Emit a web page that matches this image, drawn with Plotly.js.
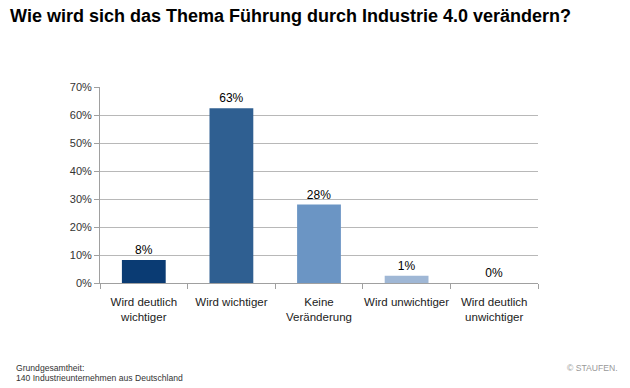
<!DOCTYPE html>
<html>
<head>
<meta charset="utf-8">
<script src="https://cdn.plot.ly/plotly-3.0.1.min.js"></script>
<style>html,body{margin:0;padding:0;background:#fff;}#chart{width:630px;height:388px;}</style>
</head>
<body>
<div id="chart"></div>
<script>
const categories = ['Wird deutlich<br>wichtiger', 'Wird wichtiger', 'Keine<br>Veränderung', 'Wird unwichtiger', 'Wird deutlich<br>unwichtiger'];
const values = [8.2, 62.4, 28.0, 2.6, 0];
const labels = ['8%', '63%', '28%', '1%', '0%'];
const barColors = ['#0A3B73', '#2F5F91', '#6B95C4', '#9FB7D5', '#C5D3E6'];
const yTicks = [0, 10, 20, 30, 40, 50, 60, 70];
const titleText = 'Wie wird sich das Thema Führung durch Industrie 4.0 verändern?';
const footerLines = ['Grundgesamtheit:', '140 Industrieunternehmen aus Deutschland'];
const copyrightText = '© STAUFEN.';

const trace = {
  type: 'bar',
  x: categories,
  y: values,
  text: labels,
  textposition: 'outside',
  textfont: {family: 'Liberation Sans, Arial, sans-serif', size: 12, color: '#000'},
  cliponaxis: false,
  marker: {color: barColors, line: {width: 0}},
  hoverinfo: 'none'
};

const footFont = {size: 8.6, color: '#333', family: 'Liberation Sans, Arial, sans-serif'};

const layout = {
  width: 630, height: 388,
  margin: {l: 100, r: 92, t: 87, b: 105},
  paper_bgcolor: '#fff', plot_bgcolor: '#fff',
  bargap: 0.5,
  showlegend: false,
  font: {family: 'Liberation Sans, Arial, sans-serif', color: '#222'},
  xaxis: {
    type: 'category',
    tickson: 'boundaries',
    tickangle: 0,
    ticks: 'outside', ticklen: 5, tickcolor: '#a0a0a0',
    ticklabelstandoff: 8,
    showline: true, linecolor: '#a0a0a0', linewidth: 1,
    showgrid: false,
    tickfont: {size: 11.5, color: '#222'},
    fixedrange: true
  },
  yaxis: {
    range: [0, 70],
    tickvals: yTicks,
    ticktext: yTicks.map(v => v + '%'),
    ticks: 'outside', ticklen: 5, tickcolor: '#a0a0a0',
    showline: true, linecolor: '#a0a0a0', linewidth: 1,
    showgrid: true, gridcolor: '#b8b8b8', gridwidth: 1,
    zeroline: false,
    tickfont: {size: 11, color: '#333'},
    fixedrange: true
  },
  title: {
    text: '<b>' + titleText + '</b>',
    x: 0.016, xanchor: 'left', y: 0.96, yanchor: 'middle',
    font: {family: 'Liberation Sans, Arial, sans-serif', size: 18, color: '#000'}
  },
  annotations: [
    {text: footerLines[0], xref: 'paper', yref: 'paper',
     x: -0.196, y: -0.398, xanchor: 'left', yanchor: 'top', align: 'left', showarrow: false, font: footFont},
    {text: footerLines[1], xref: 'paper', yref: 'paper',
     x: -0.196, y: -0.447, xanchor: 'left', yanchor: 'top', align: 'left', showarrow: false, font: footFont},
    {text: copyrightText, xref: 'paper', yref: 'paper',
     x: 1.187, y: -0.398, xanchor: 'right', yanchor: 'top', showarrow: false,
     font: {size: 8.6, color: '#999', family: 'Liberation Sans, Arial, sans-serif'}}
  ]
};

Plotly.newPlot('chart', [trace], layout, {displayModeBar: false, staticPlot: true});
</script>
</body>
</html>
